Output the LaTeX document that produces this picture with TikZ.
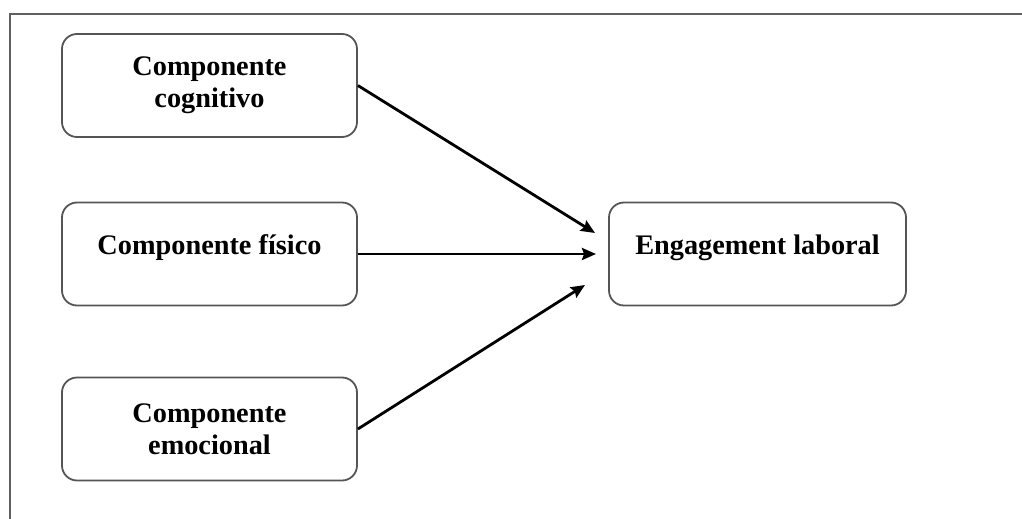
\documentclass[tikz,border=0pt]{standalone}
\usepackage{fontspec}
\setmainfont{Liberation Serif}
\usetikzlibrary{arrows.meta,calc}
\definecolor{framegray}{HTML}{606060}
\definecolor{boxgray}{HTML}{555555}
\begin{document}
\begin{tikzpicture}[x=0.5pt,y=-0.5pt,
  comp/.style={draw=boxgray, line width=0.9pt, rounded corners=7.5pt,
    minimum width=147.5pt, minimum height=51.5pt, inner sep=0pt,
    align=center, font=\fontsize{14.15}{16}\selectfont\bfseries},
  oneline/.style={text height=9pt, text depth=9pt},
  link/.style={line width=1.4pt, -{Stealth[length=7pt,width=6pt,inset=1pt]}},
  frame/.style={draw=framegray, line width=1pt}]
\useasboundingbox (0,0) rectangle (1022,519);
% open frame: top and left edges only
\draw[frame] (9.5,519) -- (9.5,14.5) -- (1022,14.5);

% the three components
\node[comp] (cog) at (209.5,85.5) {Componente\\cognitivo};
\node[comp, oneline] (fis) at (209.5,254) {Componente físico};
\node[comp] (emo) at (209.5,429) {Componente\\emocional};

% outcome
\node[comp, oneline, minimum width=148.5pt] (eng) at (757.5,254) {Engagement laboral};

% arrow tips stop short of the outcome box
\coordinate (tcog) at (595,233);
\coordinate (tfis) at (596,254);
\coordinate (temo) at (585,285);

\draw[link] (cog.east) -- (tcog);
\draw[link] (fis.east) -- (tfis);
\draw[link] (emo.east) -- (temo);
\end{tikzpicture}
\end{document}
